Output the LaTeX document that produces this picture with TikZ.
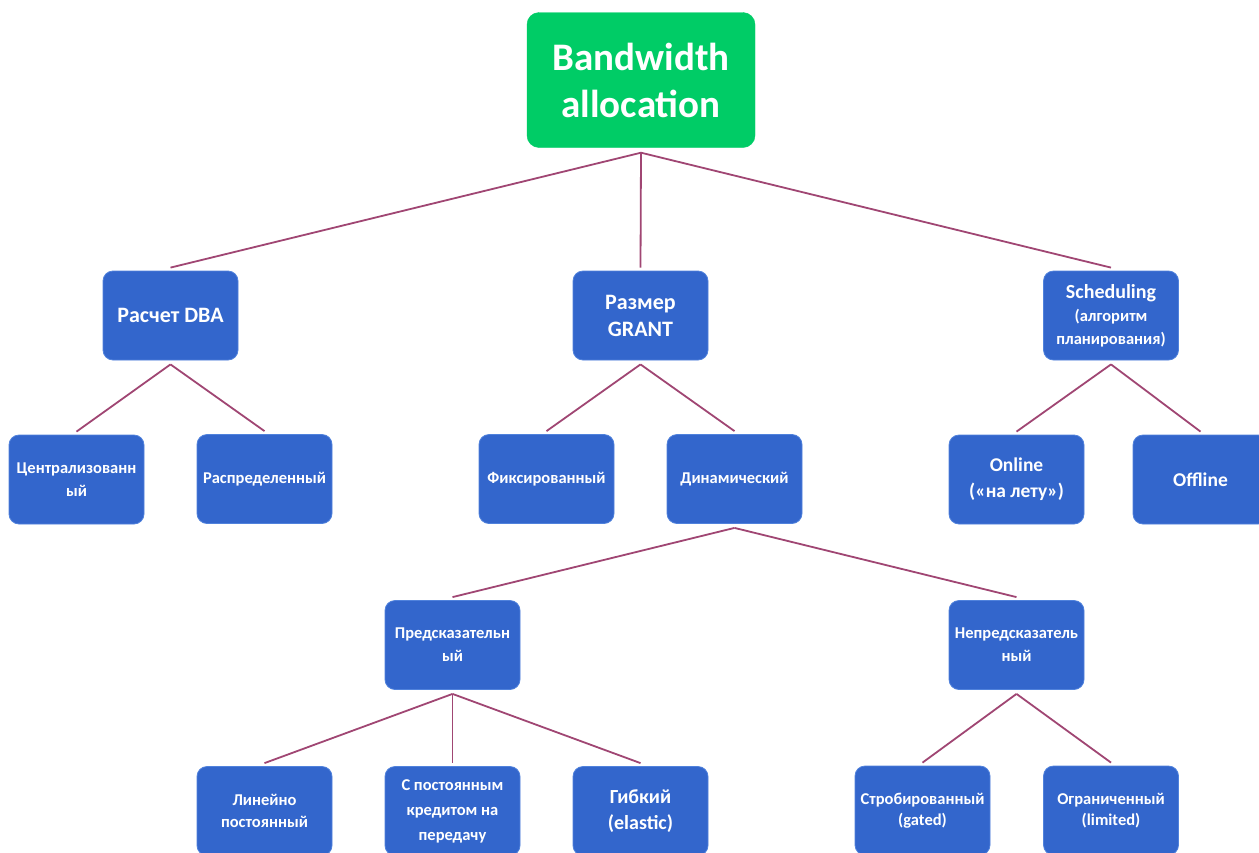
\documentclass[tikz,border=0pt]{standalone}
\usepackage{fontspec}
\setmainfont{Carlito}
\definecolor{boxblue}{RGB}{51,102,204}
\definecolor{boxedge}{RGB}{80,130,220}
\definecolor{topgreen}{RGB}{0,204,102}
\definecolor{linkcol}{RGB}{160,70,115}
\tikzset{
  box/.style={rectangle, rounded corners=10pt, fill=boxblue, draw=boxedge, line width=0.8pt,
    minimum width=135pt, minimum height=89pt, inner sep=2pt, align=center,
    text=white, font=\bfseries\fontsize{16.5}{21}\selectfont},
  midbox/.style={box, font=\bfseries\fontsize{22}{27}\selectfont},
  bigbox/.style={box, font=\bfseries\fontsize{19.5}{26}\selectfont},
  topbox/.style={rectangle, rounded corners=12pt, fill=topgreen, draw=topgreen,
    minimum width=228pt, minimum height=135pt, align=center, text=white,
    font=\bfseries\fontsize{39}{47}\selectfont},
  conn/.style={draw=linkcol, line width=1.8pt},
}
\begin{document}
\begin{tikzpicture}[x=1pt,y=-1pt]
\useasboundingbox[fill=white] (0,0) rectangle (1259,852);
% nodes
\node[topbox] (root) at (641,80) {Bandwidth\\allocation};
\node[midbox] (dba) at (170.5,315.5) {Расчет DBA};
\node[midbox] (grant) at (640.5,315.5) {Размер\\GRANT};
\node[box, font=\bfseries\fontsize{20}{23}\selectfont] (sched) at (1111,315.5) {Scheduling\\{\fontsize{16.5}{22}\selectfont (алгоритм}\\{\fontsize{16.5}{21}\selectfont планирования)}};
\node[box, font=\bfseries\fontsize{16.5}{23}\selectfont] (central) at (76.5,479.5) {Централизованн\\ый};
\node[box] (distr) at (264.5,479) {Распределенный};
\node[box] (fixed) at (546.5,479) {Фиксированный};
\node[box] (dyn) at (734.5,479) {Динамический};
\node[bigbox] (online) at (1016.5,479.5) {Online\\(«на лету»)};
\node[bigbox] (offline) at (1200.5,479.5) {Offline};
\node[box, font=\bfseries\fontsize{16.5}{23}\selectfont] (pred) at (452.5,645) {Предсказательн\\ый};
\node[box, font=\bfseries\fontsize{16.5}{23}\selectfont] (unpred) at (1016.5,645) {Непредсказатель\\ный};
\node[box, font=\bfseries\fontsize{16.5}{22}\selectfont] (linear) at (264.5,811) {Линейно\\постоянный};
\node[box, font=\bfseries\fontsize{16.5}{25}\selectfont] (credit) at (452.5,811) {С постоянным\\кредитом на\\передачу};
\node[bigbox, font=\bfseries\fontsize{20}{26}\selectfont] (elastic) at (640.5,811) {Гибкий\\(elastic)};
\node[box] (gated) at (922.5,810.5) {Стробированный\\(gated)};
\node[box] (limited) at (1111,810.5) {Ограниченный\\(limited)};
% connectors
\foreach \c in {dba,grant,sched}
  \draw[conn] ([yshift=-5pt]root.south) -- ([yshift=3pt]\c.north);
\foreach \p/\c in {dba/central, dba/distr, grant/fixed, grant/dyn, sched/online, sched/offline,
                   dyn/pred, dyn/unpred, pred/linear, pred/credit, pred/elastic,
                   unpred/gated, unpred/limited}
  \draw[conn] ([yshift=-4pt]\p.south) -- ([yshift=3pt]\c.north);
\end{tikzpicture}
\end{document}
